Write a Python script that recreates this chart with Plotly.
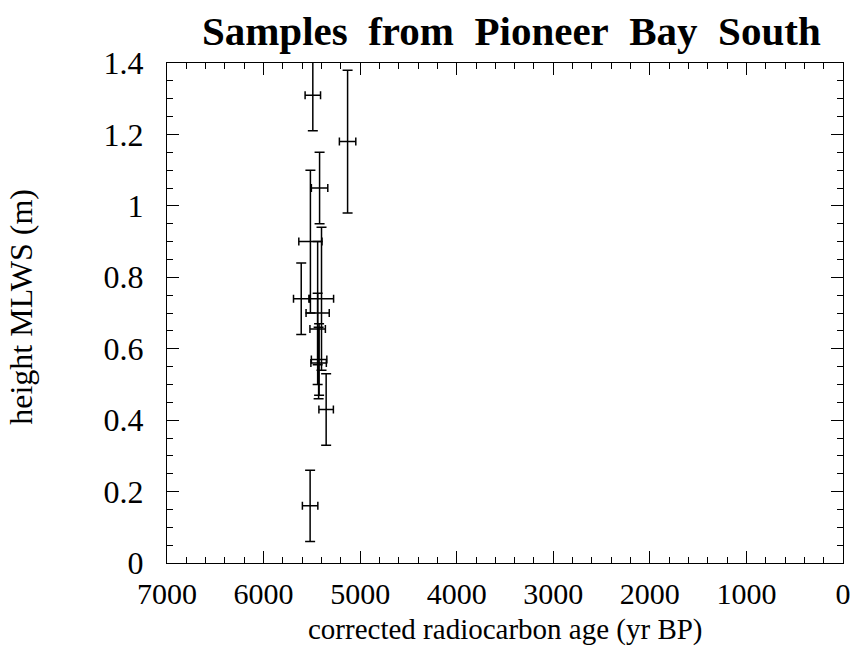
import plotly.graph_objects as go

# Data (corrected radiocarbon age, height MLWS)
age = [5490, 5130, 5420, 5515, 5610, 5400, 5440, 5425, 5440, 5430, 5352, 5518]
age_err = [80, 85, 85, 120, 80, 125, 120, 80, 80, 80, 75, 80]
height = [1.31, 1.18, 1.05, 0.90, 0.74, 0.74, 0.70, 0.57, 0.655, 0.56, 0.43, 0.16]
height_err = [0.1, 0.2, 0.1, 0.2, 0.1, 0.2, 0.2, 0.1, 0.1, 0.1, 0.1, 0.1]

x_ticks = [7000, 6000, 5000, 4000, 3000, 2000, 1000, 0]
y_ticks = [0, 0.2, 0.4, 0.6, 0.8, 1.0, 1.2, 1.4]
y_tick_text = ["0", "0.2", "0.4", "0.6", "0.8", "1", "1.2", "1.4"]

title_text = "\u2002".join(["Samples", "from", "Pioneer", "Bay", "South"])
x_title = "corrected radiocarbon age (yr BP)"
y_title = "height MLWS (m)"

font = "Liberation Serif, Times New Roman, serif"

fig = go.Figure()
fig.add_trace(go.Scatter(
    x=age, y=height, mode="markers",
    marker=dict(size=1, color="black"),
    error_x=dict(type="data", array=age_err, color="black", thickness=1.5, width=4),
    error_y=dict(type="data", array=height_err, color="black", thickness=1.5, width=5),
    showlegend=False, cliponaxis=True,
))

axis_common = dict(
    showline=True, linecolor="black", linewidth=1, mirror="ticks",
    ticks="inside", tickcolor="black", showgrid=False, zeroline=False,
    automargin=False,
)

fig.update_xaxes(
    range=[7000, 0], tickvals=x_ticks, ticklen=12, tickwidth=1,
    ticklabelstandoff=4,
    tickfont=dict(family=font, size=30, color="black"),
    minor=dict(dtick=200, ticklen=6, ticks="inside", tickcolor="black", showgrid=False),
    **axis_common,
)
fig.update_yaxes(
    range=[0, 1.4], tickvals=y_ticks, ticktext=y_tick_text, ticklen=12, tickwidth=1,
    ticklabelstandoff=16,
    tickfont=dict(family=font, size=32, color="black"),
    minor=dict(dtick=0.05, ticklen=6, ticks="inside", tickcolor="black", showgrid=False),
    **axis_common,
)

fig.update_layout(
    width=855, height=649,
    margin=dict(l=167, r=12, t=63, b=86, autoexpand=False),
    paper_bgcolor="white", plot_bgcolor="white",
    title=dict(text="<b>" + title_text + "</b>", x=0.598, xanchor="center",
               y=0.953, yanchor="middle",
               font=dict(family=font, size=41, color="black")),
    annotations=[
        dict(text=x_title, xref="paper", yref="paper", x=0.5, y=-0.132,
             xanchor="center", yanchor="middle", showarrow=False,
             font=dict(family=font, size=29, color="black")),
        dict(text=y_title, xref="paper", yref="paper", x=-0.217, y=0.513,
             xanchor="center", yanchor="middle", showarrow=False, textangle=-90,
             font=dict(family=font, size=32, color="black")),
    ],
)

fig.write_html("out.html")
